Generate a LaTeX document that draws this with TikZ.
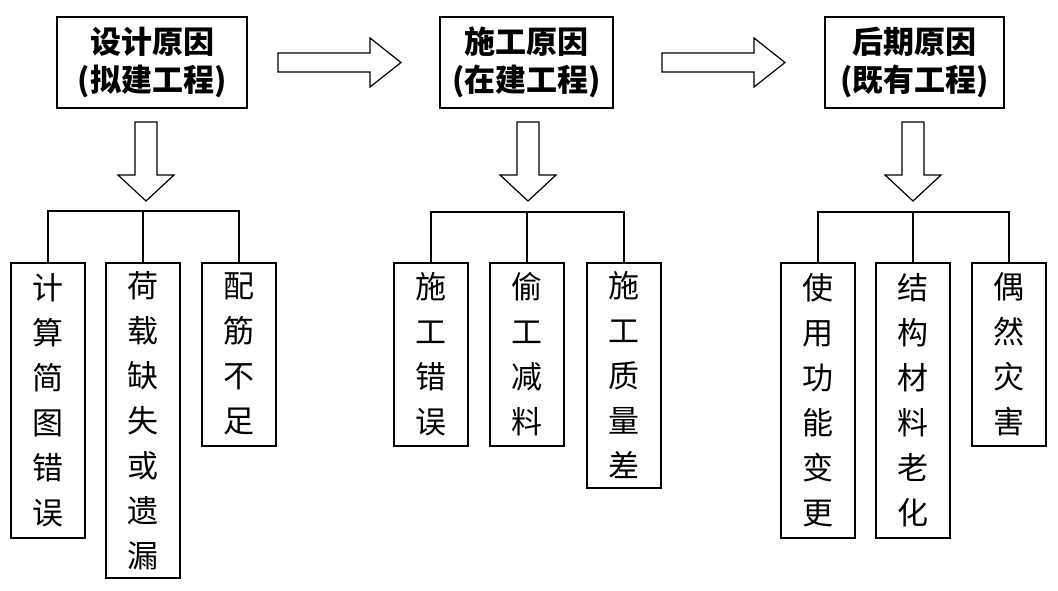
\documentclass[tikz,border=0pt]{standalone}
\usepackage{fontspec}
\newfontfamily\cjk{Noto Sans CJK SC}
\begin{document}
\begin{tikzpicture}[x=1pt,y=-1pt,
 top/.style={draw,line width=1.6pt,minimum width=#1,minimum height=91pt,inner sep=0pt,align=center,font=\cjk\bfseries\fontsize{31}{38}\selectfont},
 leaf/.style={draw,line width=1.6pt,anchor=north,minimum width=74pt,inner sep=0pt,align=center,font=\cjk\fontsize{31}{45}\selectfont},
 ln/.style={line width=1.2pt},
 harr/.style={draw,line width=1.2pt,fill=white}]
\useasboundingbox (0,0) rectangle (1058,590);
% top boxes
\node[top=190pt] (t1) at (152,62.5) {设计原因\\(拟建工程)};
\node[top=173pt] (t2) at (526.5,62.5) {施工原因\\(在建工程)};
\node[top=179pt] (t3) at (914.5,62.5) {后期原因\\(既有工程)};
% horizontal hollow arrows
\foreach \a in {278,662}{
 \draw[harr] (\a,53)--(\a+92,53)--(\a+92,38)--(\a+123,62.5)--(\a+92,87)--(\a+92,72)--(\a,72)--cycle;}
% vertical hollow arrows
\foreach \c in {146,528,913}{
 \draw[harr] (\c-11,122)--(\c+11,122)--(\c+11,175)--(\c+28,175)--(\c,201)--(\c-28,175)--(\c-11,175)--(\c-11,122)--cycle;}
% leaves
\node[leaf,minimum height=275pt] (a1) at (48,262) {计\\算\\简\\图\\错\\误};
\node[leaf,minimum height=315pt] (a2) at (143,262) {荷\\载\\缺\\失\\或\\遗\\漏};
\node[leaf,minimum height=183pt] (a3) at (239,262) {配\\筋\\不\\足};
\node[leaf,minimum height=183pt] (b1) at (431,262) {施\\工\\错\\误};
\node[leaf,minimum height=183pt] (b2) at (527,262) {偷\\工\\减\\料};
\node[leaf,minimum height=225pt] (b3) at (624,262) {施\\工\\质\\量\\差};
\node[leaf,minimum height=275pt] (c1) at (818,262) {使\\用\\功\\能\\变\\更};
\node[leaf,minimum height=275pt] (c2) at (913,262) {结\\构\\材\\料\\老\\化};
\node[leaf,minimum height=183pt] (c3) at (1009,262) {偶\\然\\灾\\害};
% trees
\foreach \l/\m/\r/\y in {a1/a2/a3/211,b1/b2/b3/212,c1/c2/c3/212}{
 \draw[ln] (\l.north) -- (\l.north |- 0,\y) -- (\r.north |- 0,\y) -- (\r.north);
 \draw[ln] (\m.north) -- (\m.north |- 0,\y);}
\end{tikzpicture}
\end{document}
